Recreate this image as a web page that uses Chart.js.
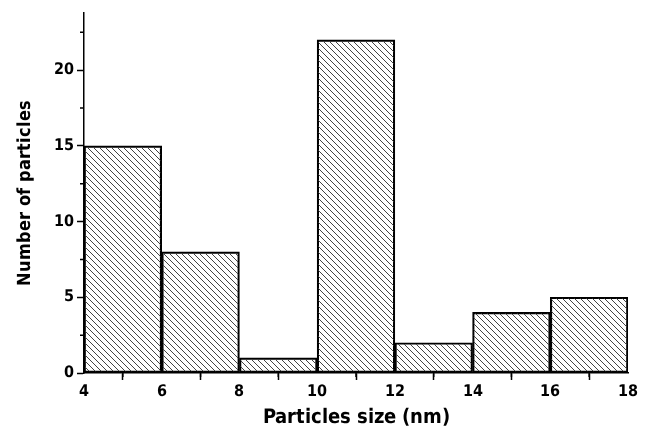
<!DOCTYPE html>
<html>
<head>
<meta charset="utf-8">
<script src="https://cdn.jsdelivr.net/npm/chart.js@4"></script>
<style>
  @font-face {
    font-family: 'DVC';
    src: local('DejaVu Sans Condensed'), local('DejaVuSansCondensed');
    font-weight: normal;
  }
  @font-face {
    font-family: 'DVC';
    src: local('DejaVu Sans Condensed Bold'), local('DejaVuSansCondensed-Bold');
    font-weight: bold;
  }
  html, body { margin: 0; padding: 0; background: #fff; }
  #wrap { width: 650px; height: 433px; }
</style>
</head>
<body>
<div id="wrap"><canvas id="histChart"></canvas></div>
<script>
'use strict';

// histogram bins (nm) and counts
const binStarts = [4, 6, 8, 10, 12, 14, 16];
const binWidth = 2;
const counts = [15, 8, 1, 22, 2, 4, 5];
const xTicks = [4, 6, 8, 10, 12, 14, 16, 18];
const yTicks = [0, 5, 10, 15, 20];

const FAMILY = "DVC, 'DejaVu Sans', sans-serif";

// diagonal hatch, top-left to bottom-right, one pixel stepped line per 6px
function makeHatch() {
    const size = 6;
    const c = document.createElement('canvas');
    c.width = size;
    c.height = size;
    const g = c.getContext('2d');
    g.fillStyle = '#444';
    for (let i = 0; i < size; i++) {
        g.fillRect(i, i, 1, 1);
    }
    return g.createPattern(c, 'repeat');
}

// small unlabeled ticks halfway between the labelled ones
const minorTicks = {
    id: 'minorTicks',
    afterDraw(chart) {
        const ctx = chart.ctx;
        const x = chart.scales.x;
        const y = chart.scales.y;
        ctx.save();
        ctx.strokeStyle = '#000';
        ctx.lineWidth = 1.5;
        ctx.beginPath();
        for (let i = 0; i < xTicks.length - 1; i++) {
            const px = x.getPixelForValue((xTicks[i] + xTicks[i + 1]) / 2);
            ctx.moveTo(px, y.bottom);
            ctx.lineTo(px, y.bottom + 4);
        }
        for (let i = 0; i < yTicks.length; i++) {
            const v = yTicks[i] + 2.5;
            if (v > y.max) continue;
            const py = y.getPixelForValue(v);
            ctx.moveTo(x.left, py);
            ctx.lineTo(x.left - 4, py);
        }
        ctx.stroke();
        ctx.restore();
    }
};

function drawChart() {
    const points = binStarts.map((s, i) => ({ x: s + binWidth / 2, y: counts[i] }));

    const ctx = document.getElementById('histChart');
    const histChart = new Chart(ctx, {
        type: 'bar',
        data: {
            datasets: [{
                label: 'Number of particles',
                data: points,
                backgroundColor: makeHatch(),
                borderColor: '#000',
                borderWidth: 1.5,
                borderSkipped: false,
                barPercentage: 1,
                categoryPercentage: 1
            }]
        },
        options: {
            responsive: true,
            maintainAspectRatio: false,
            animation: false,
            layout: { padding: { top: 10, right: 22, left: 0, bottom: 0 } },
            plugins: {
                legend: { display: false },
                tooltip: { enabled: false }
            },
            scales: {
                x: {
                    type: 'linear',
                    min: 4,
                    max: 18,
                    offset: false,
                    afterFit: s => { s.height = 60; },
                    afterBuildTicks: s => { s.ticks = xTicks.map(v => ({ value: v })); },
                    ticks: {
                        color: '#000',
                        padding: 2,
                        maxRotation: 0,
                        font: { family: FAMILY, size: 16, weight: 'bold' }
                    },
                    grid: { drawOnChartArea: false, drawTicks: true, tickLength: 7, tickColor: '#000', tickWidth: 1.5 },
                    border: { display: true, color: '#000', width: 1.5 },
                    title: {
                        display: true,
                        text: 'Particles size (nm)',
                        color: '#000',
                        padding: { top: 4, bottom: 3 },
                        font: { family: FAMILY, size: 20, weight: 'bold' }
                    }
                },
                y: {
                    min: 0,
                    max: 23.8,
                    afterFit: s => { s.width = 84; },
                    afterBuildTicks: s => { s.ticks = yTicks.map(v => ({ value: v })); },
                    ticks: {
                        color: '#000',
                        padding: 3,
                        font: { family: FAMILY, size: 16, weight: 'bold' }
                    },
                    grid: { drawOnChartArea: false, drawTicks: true, tickLength: 7, tickColor: '#000', tickWidth: 1.5 },
                    border: { display: true, color: '#000', width: 1.5 },
                    title: {
                        display: true,
                        text: 'Number of particles',
                        color: '#000',
                        padding: { top: 15 },
                        font: { family: FAMILY, size: 18, weight: 'bold' }
                    }
                }
            }
        },
        plugins: [minorTicks]
    });
}

Promise.all([
    document.fonts.load("16px DVC"),
    document.fonts.load("bold 16px DVC")
]).then(drawChart, drawChart);
</script>
</body>
</html>
